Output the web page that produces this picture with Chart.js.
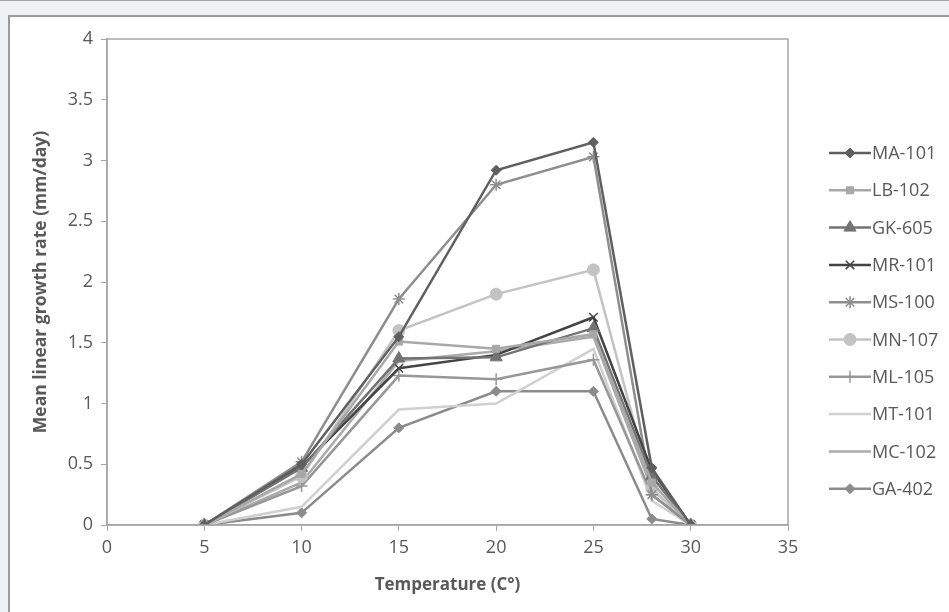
<!DOCTYPE html>
<html>
<head>
<meta charset="utf-8">
<script src="https://cdn.jsdelivr.net/npm/chart.js@4/dist/chart.umd.min.js"></script>
<style>
  html, body { margin: 0; padding: 0; }
  body { width: 949px; height: 612px; background: #f0f1f3; position: relative; overflow: hidden; border-top: 1px solid #a2a2a2; box-sizing: border-box; }
  .frame { position: absolute; left: 8px; top: 14px; right: 0; bottom: 0; background: #fff; border-left: 2px solid #9a9a9a; border-top: 2px solid #9a9a9a; }
  canvas { position: absolute; left: 0; top: 0; }
</style>
</head>
<body>
<div class="frame"></div>
<canvas id="chart" width="949" height="612"></canvas>
<script>
const temps = [5, 10, 15, 20, 25, 28, 30];

const ma101 = [0, 0.50, 1.55, 2.92, 3.15, 0.47, 0];
const lb102 = [0, 0.42, 1.51, 1.45, 1.57, 0.35, 0];
const gk605 = [0, 0.47, 1.37, 1.38, 1.62, 0.40, 0];
const mr101 = [0, 0.48, 1.29, 1.40, 1.71, 0.45, 0];
const ms100 = [0, 0.52, 1.86, 2.80, 3.03, 0.25, 0];
const mn107 = [0, 0.40, 1.60, 1.90, 2.10, 0.30, 0];
const ml105 = [0, 0.32, 1.23, 1.20, 1.36, 0.25, 0];
const mt101 = [0, 0.15, 0.95, 1.00, 1.45, 0.20, 0];
const mc102 = [0, 0.35, 1.35, 1.43, 1.55, 0.30, 0];
const ga402 = [0, 0.10, 0.80, 1.10, 1.10, 0.05, 0];

const xTicks = [0, 5, 10, 15, 20, 25, 30, 35];
const yTicks = [0, 0.5, 1, 1.5, 2, 2.5, 3, 3.5, 4];

const FONT = "'Open Sans', sans-serif";
const TEXT = '#595959';
const AXIS = '#a6a6a6';

// label, values, colour, point style, radius
const series = [
    ['MA-101', ma101, '#5f5f5f', 'rectRot', 5],
    ['LB-102', lb102, '#a8a8a8', 'rect', 5],
    ['GK-605', gk605, '#737373', 'triangle', 7],
    ['MR-101', mr101, '#444444', 'crossRot', 6],
    ['MS-100', ms100, '#8e8e8e', 'star', 6],
    ['MN-107', mn107, '#c3c3c3', 'circle', 6],
    ['ML-105', ml105, '#979797', 'cross', 6],
    ['MT-101', mt101, '#d0d0d0', false, 0],
    ['MC-102', mc102, '#ababab', false, 0],
    ['GA-402', ga402, '#8b8b8b', 'rectRot', 5]
];

const datasets = series.map(([label, vals, color, style, r]) => ({
    label: label,
    data: temps.map((t, i) => ({ x: t, y: vals[i] })),
    borderColor: color,
    backgroundColor: color,
    borderWidth: 2.5,
    pointStyle: style,
    pointRadius: r,
    pointBorderWidth: (style === 'crossRot' || style === 'cross' || style === 'star') ? 1.5 : 1,
    showLine: true,
    tension: 0
}));

// plot area frame (Excel style)
const plotBorder = {
    id: 'plotBorder',
    afterDatasetsDraw(chart) {
        const { ctx, chartArea: a } = chart;
        ctx.save();
        ctx.strokeStyle = AXIS;
        ctx.lineWidth = 1.5;
        ctx.strokeRect(a.left, a.top, a.right - a.left, a.bottom - a.top);
        ctx.restore();
    }
};

// legend with line + marker samples
const lineLegend = {
    id: 'lineLegend',
    afterDraw(chart) {
        const ctx = chart.ctx;
        ctx.save();
        ctx.font = '18px ' + FONT;
        ctx.textBaseline = 'middle';
        chart.data.datasets.forEach((ds, i) => {
            const y = 152 + i * 37.3;
            ctx.strokeStyle = ds.borderColor;
            ctx.lineWidth = 2.5;
            ctx.beginPath();
            ctx.moveTo(829, y);
            ctx.lineTo(871, y);
            ctx.stroke();
            if (ds.pointStyle) {
                ctx.fillStyle = ds.backgroundColor;
                ctx.lineWidth = ds.pointBorderWidth;
                Chart.helpers.drawPoint(ctx, { pointStyle: ds.pointStyle, radius: ds.pointRadius, borderWidth: ds.pointBorderWidth }, 850, y);
            }
            ctx.fillStyle = TEXT;
            ctx.fillText(ds.label, 872, y + 1);
        });
        ctx.restore();
    }
};

new Chart(document.getElementById('chart'), {
    type: 'line',
    data: { datasets: datasets },
    options: {
        responsive: false,
        animation: false,
        layout: { padding: { left: 27, top: 38, right: 161, bottom: 14 } },
        plugins: { legend: { display: false }, tooltip: { enabled: false } },
        scales: {
            x: {
                type: 'linear',
                min: 0,
                max: 35,
                afterBuildTicks: (s) => { s.ticks = xTicks.map(v => ({ value: v })); },
                afterFit: (s) => { s.height = 74; },
                grid: { drawOnChartArea: false, tickLength: 6, color: AXIS },
                border: { color: AXIS, width: 1.5 },
                ticks: { color: TEXT, font: { family: FONT, size: 18 }, padding: 6, callback: (v) => String(v) },
                title: { display: true, text: 'Temperature (C°)', color: TEXT, font: { family: FONT, size: 17, weight: 'bold' }, padding: { top: 0 } }
            },
            y: {
                min: 0,
                max: 4,
                afterBuildTicks: (s) => { s.ticks = yTicks.map(v => ({ value: v })); },
                afterFit: (s) => { s.width = 80; },
                grid: { drawOnChartArea: false, tickLength: 6, color: AXIS },
                border: { color: AXIS, width: 1.5 },
                ticks: { color: TEXT, font: { family: FONT, size: 18 }, padding: 8, callback: (v) => String(v) },
                title: { display: true, text: 'Mean linear growth rate (mm/day)', color: TEXT, font: { family: FONT, size: 17.5, weight: 'bold' }, padding: { bottom: 0 } }
            }
        }
    },
    plugins: [plotBorder, lineLegend]
});
</script>
</body>
</html>
